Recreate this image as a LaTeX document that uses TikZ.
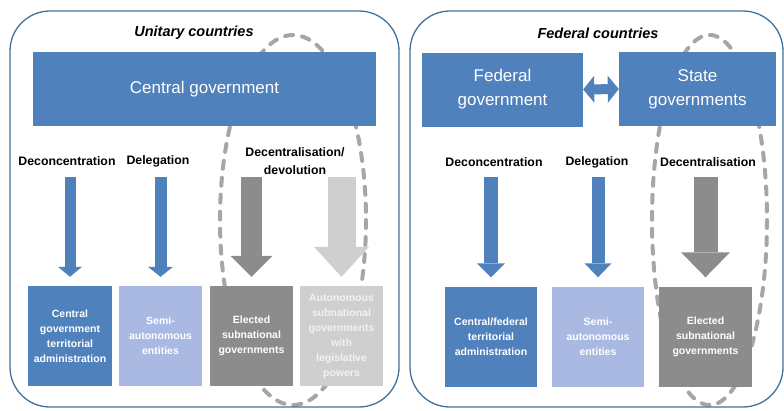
\documentclass[tikz,border=0pt]{standalone}
\usepackage{fontspec}
\setmainfont{Liberation Sans}
\usetikzlibrary{arrows.meta}
\definecolor{govblue}{HTML}{4F81BD}
\definecolor{semiblue}{HTML}{A9B9E1}
\definecolor{panelblue}{HTML}{41719C}
\definecolor{darkgrey}{HTML}{8C8C8C}
\definecolor{lightgrey}{HTML}{CFCFCF}
\definecolor{ringgrey}{HTML}{A6A6A6}

\begin{document}
\begin{tikzpicture}[x=1pt,y=-1pt,
    panel/.style={draw=panelblue,line width=1.3pt,rounded corners=40pt},
    paneltitle/.style={font=\bfseries\itshape\fontsize{14.5}{17}\selectfont},
    govbox/.style={fill=govblue,text=white,align=center,minimum height=74pt,
      font=\fontsize{17}{24}\selectfont},
    tierbox/.style={fill=#1,text=white,align=center,minimum height=100pt,inner sep=1pt,
      font=\bfseries\fontsize{10.5}{15}\selectfont},
    modelabel/.style={align=center,font=\bfseries\fontsize{12.3}{17.5}\selectfont},
    ringdash/.style={draw=ringgrey,line width=4pt,dash pattern=on 8pt off 9pt,line cap=round},
    blockarrow/.style n args={4}{draw=#1,line width=#2,shorten >=9pt,
      -{Triangle[width=#3,length=#4,line width=0pt]}},
  ]
  \useasboundingbox (0,0) rectangle (784,410);
  % dashed rings behind the boxes
  \draw[ringdash] (293,220) ellipse [x radius=73,y radius=185];
  \draw[ringdash] (709.5,220) ellipse [x radius=57.5,y radius=185];
  \draw[panel] (10,11) rectangle (399,407);
  \draw[panel] (410,11) rectangle (783,407);
  \coordinate (atop) at (0,177);

  % unitary countries
  \node[paneltitle] (unitary) at (194,33) {Unitary countries};
  \node[govbox,minimum width=343pt] (central) at (204.5,89) {Central government};
  \node[modelabel] (deconU) at (67,161) {Deconcentration};
  \node[modelabel] (delegU) at (158,161) {Delegation};
  \node[modelabel] (devolU) at (295,161) {Decentralisation/\\devolution};
  \node[tierbox=govblue,minimum width=84pt] (adminU) at (70,336)
    {Central\\government\\territorial\\administration};
  \node[tierbox=semiblue,minimum width=83pt] (semiU) at (160.5,336) {Semi-\\autonomous\\entities};
  \node[tierbox=darkgrey,minimum width=83pt] (electU) at (251.5,336)
    {Elected\\subnational\\governments};
  \node[tierbox=lightgrey,minimum width=83pt,text=white!95!black] (autoU) at (341.5,336)
    {Autonomous\\subnational\\governments\\with\\legislative\\powers};
  \draw[blockarrow={govblue}{11pt}{24pt}{10pt}] (adminU.north |- atop) -- (adminU.north);
  \draw[blockarrow={govblue}{12pt}{25pt}{10pt}] (semiU.north |- atop) -- (semiU.north);
  \draw[blockarrow={darkgrey}{21pt}{42pt}{21pt}] (electU.north |- atop) -- (electU.north);
  \draw[blockarrow={lightgrey}{28pt}{55pt}{30pt}] (autoU.north |- atop) -- (autoU.north);

  % federal countries
  \node[paneltitle] (federal) at (598,33) {Federal countries};
  \node[govbox,minimum width=161pt] (fedgov) at (502.5,89.5) {Federal\\government};
  \node[govbox,minimum width=157pt] (stategov) at (697.5,89) {State\\governments};
  \draw[draw=govblue,line width=10pt,
    {Triangle[width=27pt,length=11pt,line width=0pt]}-{Triangle[width=27pt,length=11pt,line width=0pt]}]
    (fedgov.east) -- (stategov.west);
  \node[modelabel] (deconF) at (494,162) {Deconcentration};
  \node[modelabel] (delegF) at (597,162) {Delegation};
  \node[modelabel] (decenF) at (708,162) {Decentralisation};
  \node[tierbox=govblue,minimum width=92pt] (adminF) at (491,336.5)
    {Central/federal\\territorial\\administration};
  \node[tierbox=semiblue,minimum width=92pt] (semiF) at (598,336.5) {Semi-\\autonomous\\entities};
  \node[tierbox=darkgrey,minimum width=93pt] (electF) at (705.5,336.5)
    {Elected\\subnational\\governments};
  \draw[blockarrow={govblue}{14pt}{28pt}{14pt}] (adminF.north |- atop) -- (adminF.north);
  \draw[blockarrow={govblue}{13pt}{27pt}{14pt}] (semiF.north |- atop) -- (semiF.north);
  \draw[blockarrow={darkgrey}{24pt}{49pt}{25pt}] (electF.north |- atop) -- (electF.north);
\end{tikzpicture}
\end{document}
